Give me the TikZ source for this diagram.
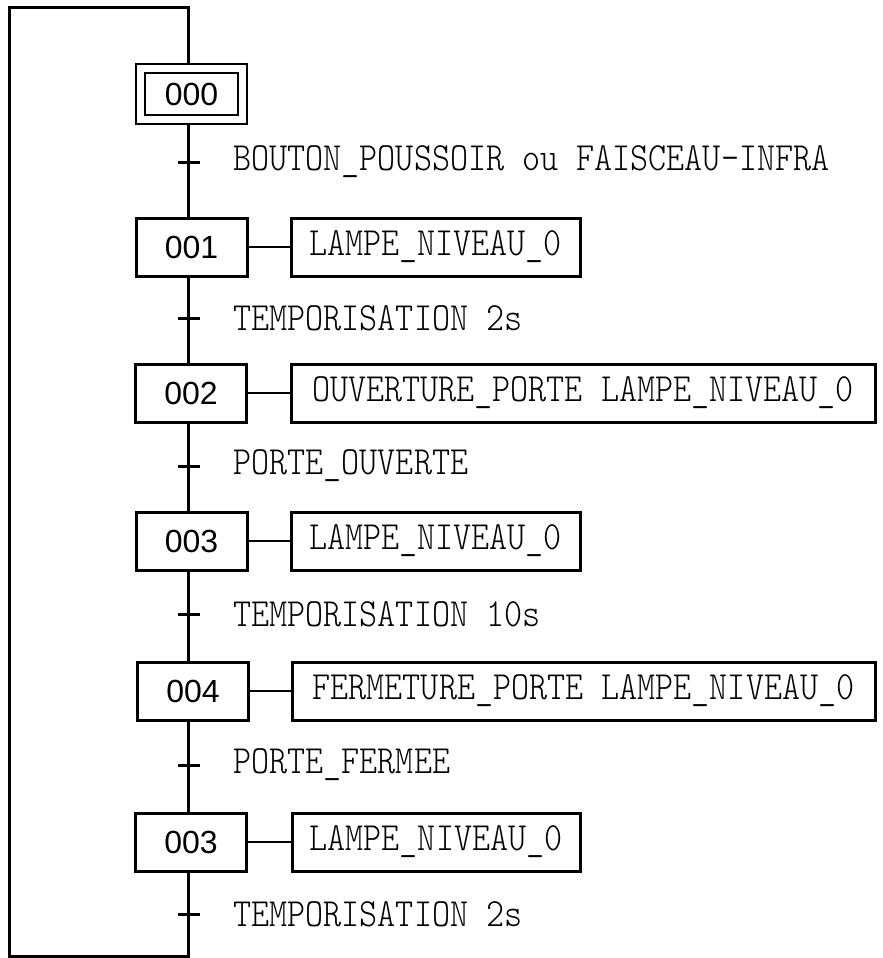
\documentclass[tikz,border=0pt]{standalone}
\usepackage{fontspec}
\setmainfont{Liberation Sans}
\newfontfamily\grafmono{Latin Modern Mono Light}[FakeStretch=0.86]

\tikzset{
  etape/.style={draw,line width=1.5pt,minimum width=55.5pt,minimum height=29pt,inner sep=0pt,
                font=\fontsize{16}{16}\selectfont},
  action/.style={draw,line width=1.5pt,minimum height=29pt,inner sep=0pt,
                 font=\grafmono\fontsize{20}{20}\selectfont},
  recept/.style={anchor=west,inner sep=0pt,font=\grafmono\fontsize{20}{20}\selectfont},
  liaison/.style={line width=1.5pt},
}

\begin{document}
\begin{tikzpicture}[x=0.5pt,y=-0.5pt]
\useasboundingbox (0,0) rectangle (883,958);
\coordinate (spine) at (188,0);
%initial step: double frame
\node[etape,line width=1pt,minimum height=30pt] (s0) at (191.5,94) {};
\node[draw,line width=1pt,minimum width=46.5pt,minimum height=21pt,inner sep=0pt,
      font=\fontsize{16}{16}\selectfont] (s0in) at (s0) {000};
%steps and their actions
\foreach \n/\num/\y/\xs/\xa/\wa/\act in {
  1/001/247/191.5/435.5/144.5/LAMPE\_NIVEAU\_0,
  2/002/393/191/583/292/OUVERTURE\_PORTE LAMPE\_NIVEAU\_0,
  3/003/541/191.5/435.5/144.5/LAMPE\_NIVEAU\_0,
  4/004/691/193/583.5/291.5/FERMETURE\_PORTE LAMPE\_NIVEAU\_0,
  5/003/842/191/436/144/LAMPE\_NIVEAU\_0}{
  \node[etape] (s\n) at (\xs,\y) {\num};
  \node[action,minimum width=\wa pt] (a\n) at (\xa,\y) {\act};
  \draw[line width=0.6pt] (s\n.east) -- (a\n.west);
}
%links between steps
\foreach \i [count=\j from 1] in {0,...,4}
  \draw[liaison] (s\i.south -| spine) -- (s\j.north -| spine);
%loop back to the initial step
\coordinate (top) at (188,7);
\coordinate (tl) at (9,7);
\coordinate (bl) at (9,956);
\coordinate (br) at (188,956);
\draw[liaison,line join=miter] (s5.south -| spine) -- (br) -- (bl) -- (tl) -- (top) -- (s0.north -| spine);
%transitions
\foreach \t/\y/\txt in {
  1/162/{BOUTON\_POUSSOIR ou FAISCEAU-INFRA},
  2/318/{TEMPORISATION 2s},
  3/466/{PORTE\_OUVERTE},
  4/614/{TEMPORISATION 10s},
  5/765/{PORTE\_FERMEE},
  6/914/{TEMPORISATION 2s}}{
  \coordinate (t\t) at (188,\y);
  \draw[liaison] ([xshift=-5pt]t\t) -- ([xshift=6pt]t\t);
  \node[recept] (r\t) at (233,\y) {\txt};
}
\end{tikzpicture}
\end{document}
